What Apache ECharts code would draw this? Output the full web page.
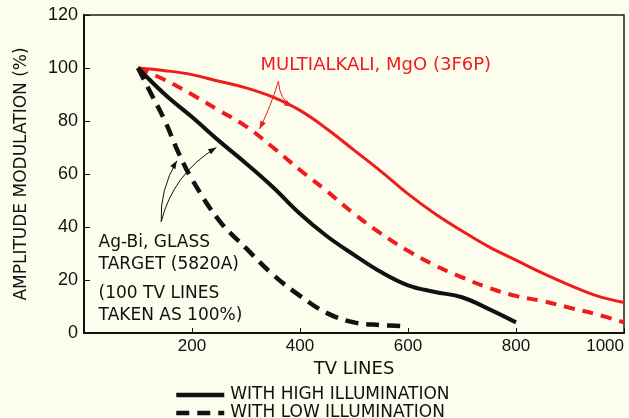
<!DOCTYPE html>
<html>
<head>
<meta charset="utf-8">
<script src="https://cdn.jsdelivr.net/npm/echarts@6/dist/echarts.min.js"></script>
<style>
  html, body { margin: 0; padding: 0; background: #fdfdee; }
  #chart { width: 629px; height: 418px; }
</style>
</head>
<body>
<div id="chart"></div>
<script>
// Amplitude modulation (%) versus TV lines for two camera-tube targets
const xTicks = [0, 200, 400, 600, 800, 1000];
const yTicks = [0, 20, 40, 60, 80, 100, 120];

// Multialkali, MgO (3F6P)
const multiHighX = [100, 150, 200, 250, 300, 350, 400, 450, 500, 550, 600, 650, 700, 750, 800, 850, 900, 950, 1000];
const multiHighY = [100, 99, 97.5, 95, 92.5, 89, 84, 77, 69, 61, 52.5, 45, 38.5, 32.5, 27.5, 22.5, 18, 14, 11.5];
const multiLowX  = [100, 150, 200, 250, 300, 350, 400, 450, 500, 550, 600, 650, 700, 750, 800, 850, 900, 950, 1000];
const multiLowY  = [100, 95.5, 90, 84, 78, 70, 61.5, 53.5, 45, 37.5, 31, 25.5, 21, 17, 14, 12, 9.5, 7, 4];

// Ag-Bi, glass target (5820A)
const agbiHighX = [100, 150, 200, 250, 300, 350, 400, 450, 500, 550, 600, 650, 700, 750, 800];
const agbiHighY = [100, 90, 81.5, 72.5, 64, 55, 45, 36.5, 29.5, 23, 18, 15.5, 13.5, 9, 4];
const agbiLowX  = [100, 125, 150, 175, 200, 250, 300, 350, 400, 450, 500, 550, 600];
const agbiLowY  = [100, 90, 80, 68, 58, 42.5, 32, 22, 14, 7.5, 4, 3, 2.5];

const legendNames = ['WITH HIGH ILLUMINATION', 'WITH LOW ILLUMINATION'];

const zip = (xs, ys) => xs.map((x, i) => [x, ys[i]]);

const RED = '#ee1c1c';
const INK = '#111111';
const LABEL_FONT = 'DejaVu Sans';

const chart = echarts.init(document.getElementById('chart'), null, { renderer: 'canvas' });

function legendRow(name, top) {
  return {
    data: [name], orient: 'horizontal', left: 174, top: top, padding: 0,
    itemWidth: 48, itemHeight: 12, selectedMode: false,
    itemStyle: { opacity: 0 },
    lineStyle: { width: 4.5 },
    textStyle: { fontFamily: LABEL_FONT, fontSize: 17, lineHeight: 18, color: INK, padding: [0, 0, 0, 1] }
  };
}

const option = {
  backgroundColor: '#fdfdee',
  animation: false,
  grid: {
    left: 84, right: 5, top: 15, bottom: 85,
    show: true, borderColor: '#1a1a1a', borderWidth: 1.5,
    backgroundColor: 'transparent'
  },
  legend: [legendRow(legendNames[0], 386), legendRow(legendNames[1], 404)],
  xAxis: {
    type: 'value',
    min: xTicks[0], max: xTicks[xTicks.length - 1], interval: 200,
    name: 'TV LINES', nameLocation: 'middle', nameGap: 27,
    nameTextStyle: { fontFamily: LABEL_FONT, fontSize: 18, color: INK },
    axisLine: { onZero: false, lineStyle: { color: INK, width: 2 } },
    axisTick: { inside: true, length: 5, lineStyle: { color: INK, width: 1 } },
    axisLabel: {
      showMinLabel: false, alignMaxLabel: 'right',
      formatter: v => String(v),
      fontFamily: 'Liberation Sans', fontSize: 17, color: INK, margin: 5
    },
    splitLine: { show: false }
  },
  yAxis: {
    type: 'value',
    min: yTicks[0], max: yTicks[yTicks.length - 1], interval: 20,
    name: 'AMPLITUDE MODULATION (%)', nameLocation: 'middle', nameGap: 54,
    nameTextStyle: { fontFamily: LABEL_FONT, fontSize: 17, color: INK },
    axisLine: { show: true, onZero: false, lineStyle: { color: INK, width: 2 } },
    axisTick: { show: true, inside: true, length: 6, lineStyle: { color: INK, width: 1 } },
    axisLabel: { fontFamily: 'Liberation Sans', fontSize: 18, color: INK, margin: 6, formatter: v => String(v) },
    splitLine: { show: false }
  },
  series: [
    {
      name: 'MULTIALKALI HIGH', type: 'line', smooth: 0.4, symbol: 'none',
      data: zip(multiHighX, multiHighY),
      lineStyle: { color: RED, width: 3 }, itemStyle: { color: RED }, z: 3
    },
    {
      name: 'MULTIALKALI LOW', type: 'line', smooth: 0.4, symbol: 'none',
      data: zip(multiLowX, multiLowY),
      lineStyle: { color: RED, width: 4, type: [11, 8] }, itemStyle: { color: RED }, z: 3
    },
    {
      name: legendNames[0], type: 'line', smooth: 0.4, symbol: 'none',
      data: zip(agbiHighX, agbiHighY),
      lineStyle: { color: INK, width: 4 }, itemStyle: { color: INK }, z: 4
    },
    {
      name: legendNames[1], type: 'line', smooth: 0.4, symbol: 'none',
      data: zip(agbiLowX, agbiLowY),
      lineStyle: { color: INK, width: 4.5, type: [13, 8] }, itemStyle: { color: INK }, z: 4
    }
  ]
};

chart.setOption(option);

// Annotation labels and pointer arrows, anchored in data space
function px(x, y) { return chart.convertToPixel({ gridIndex: 0 }, [x, y]); }

function arrow(from, ctrl, to, color) {
  const a = px(from[0], from[1]);
  const c = px(ctrl[0], ctrl[1]);
  const b = px(to[0], to[1]);
  const ang = Math.atan2(b[1] - c[1], b[0] - c[0]);
  const len = 8, wid = 3;
  const back = [b[0] - len * Math.cos(ang), b[1] - len * Math.sin(ang)];
  const nx = -Math.sin(ang) * wid, ny = Math.cos(ang) * wid;
  return [
    {
      type: 'bezierCurve', z: 10, silent: true,
      shape: { x1: a[0], y1: a[1], x2: b[0], y2: b[1], cpx1: c[0], cpy1: c[1] },
      style: { stroke: color, lineWidth: 1, fill: null }
    },
    {
      type: 'polygon', z: 10, silent: true,
      shape: { points: [b, [back[0] + nx, back[1] + ny], [back[0] - nx, back[1] - ny]] },
      style: { fill: color }
    }
  ];
}

function label(text, x, y, color, size) {
  const p = px(x, y);
  return {
    type: 'text', z: 11, silent: true, x: p[0], y: p[1],
    style: { text: text, fill: color, font: size + 'px "' + LABEL_FONT + '"', textVerticalAlign: 'middle' }
  };
}

const graphics = [].concat(
  [label('MULTIALKALI, MgO (3F6P)', 327, 101, RED, 18)],
  arrow([360, 95], [362, 88], [386, 85.5], RED),
  arrow([360, 95], [345, 85], [325, 77], RED),
  [
    label('Ag-Bi, GLASS', 27, 34, INK, 17),
    label('TARGET (5820A)', 27, 26, INK, 17),
    label('(100 TV LINES', 27, 15, INK, 17),
    label('TAKEN AS 100%)', 27, 6.5, INK, 17)
  ],
  arrow([143, 42], [140, 54], [172, 65], INK),
  arrow([143, 42], [165, 60], [245, 70], INK)
);

chart.setOption({ graphic: graphics });
</script>
</body>
</html>
